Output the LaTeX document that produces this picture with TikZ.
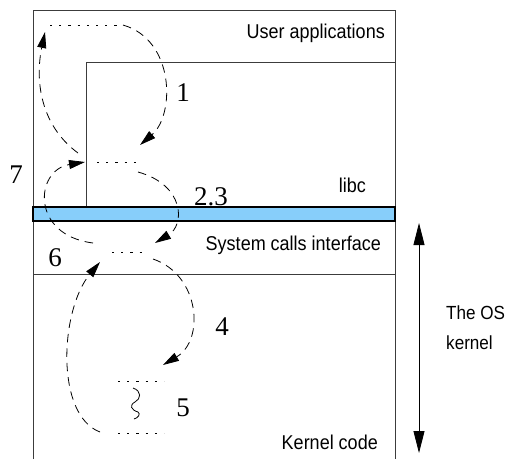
\documentclass[tikz,border=0pt]{standalone}
\usepackage{fontspec}
\setmainfont{Liberation Serif}
\newfontfamily\labfont[FakeStretch=0.9]{Liberation Sans}
\usetikzlibrary{arrows.meta}
\definecolor{barblue}{RGB}{135,206,250}
\definecolor{frame}{RGB}{60,60,60}
\begin{document}
\begin{tikzpicture}[x=1pt,y=-1pt,
  frameline/.style={draw=frame,line width=0.9pt},
  layer/.style={font=\labfont\fontsize{20}{22}\selectfont,inner sep=0pt},
  sidelabel/.style={font=\labfont\fontsize{19}{21}\selectfont,inner sep=0pt},
  stepnum/.style={font=\fontsize{27}{30}\selectfont,inner sep=0pt},
  placeholder/.style={draw,line width=0.8pt,dash pattern=on 2.2pt off 7pt},
  flow/.style={draw,line width=0.8pt,dash pattern=on 8.5pt off 6pt,
    -{Triangle[length=16pt,width=9pt]}},
  span/.style={draw,line width=0.8pt,
    {Triangle[length=22pt,width=11pt]}-{Triangle[length=22pt,width=11pt]}}]
\useasboundingbox (0,0) rectangle (511,459);

% layered boxes
\draw[frameline] (33,459) -- (33,10) -- (395,10) -- (395,459);
\draw[frameline] (86,207) -- (86,62) -- (395,62);
\draw[frameline] (33,274) -- (395,274);
\draw[fill=barblue,line width=1.6pt] (33,207) rectangle (395,221);

% layer labels
\node[layer,anchor=east] (user) at (385,33) {User applications};
\node[layer,anchor=east] (libc) at (366,185) {libc};
\node[layer,anchor=east] (sci)  at (381,245) {System calls interface};
\node[layer,anchor=east] (kcode) at (378,442) {Kernel code};

% kernel span
\coordinate (spanT) at (419,223);
\coordinate (spanB) at (419,453);
\draw[span] (spanT) -- (spanB);
\node[sidelabel,anchor=west] (os)  at (446,313) {The OS};
\node[sidelabel,anchor=west] (ker) at (446,343) {kernel};

% places where control currently is
\coordinate (appL) at (50,25);   \coordinate (appR) at (117,25);
\coordinate (libL) at (97,162);  \coordinate (libR) at (140,162);
\coordinate (sysL) at (112,252); \coordinate (sysR) at (145,252);
\coordinate (kTL) at (118,381);  \coordinate (kTR) at (164,381);
\coordinate (kBL) at (118,433);  \coordinate (kBR) at (164,433);
\draw[placeholder] (appL) -- (appR);
\draw[placeholder] (libL) -- (libR);
\draw[placeholder] (sysL) -- (sysR);
\draw[placeholder] (kTL) -- (kTR);
\draw[placeholder] (kBL) -- (kBR);

% kernel work in progress
\draw[line width=0.8pt] (133,388) .. controls (142,391) and (141,399) .. (135,402)
  .. controls (129,405) and (131,410) .. (138,412)
  .. controls (141,414) and (138,418) .. (134,419);

% ends of the control-flow arrows
\coordinate (f1s) at (123,25);  \coordinate (f1e) at (140,145);
\coordinate (f2s) at (138,172); \coordinate (f2e) at (155,243);
\coordinate (f4s) at (153,259); \coordinate (f4e) at (163,365);
\coordinate (f6s) at (100,432); \coordinate (f6e) at (100,262);
\coordinate (f7s) at (93,243);  \coordinate (f7e) at (85,162);
\coordinate (f8s) at (78,153);  \coordinate (f8e) at (45,32);

\draw[flow] (f1s) .. controls (175,40) and (175,115) .. (f1e);
\draw[flow] (f2s) .. controls (185,185) and (185,225) .. (f2e);
\draw[flow] (f4s) .. controls (200,275) and (205,340) .. (f4e);
\draw[flow] (f6s) .. controls (55,415) and (60,310) .. (f6e);
\draw[flow] (f7s) .. controls (30,235) and (35,170) .. (f7e);
\draw[flow] (f8s) .. controls (40,125) and (35,80) .. (f8e);

% step numbers
\node[stepnum] (n1) at (183,93) {1};
\node[stepnum] (n7) at (16,175) {7};
\node[stepnum] (n23) at (211,197) {2.3};
\node[stepnum] (n6) at (55,258) {6};
\node[stepnum] (n4) at (222,327) {4};
\node[stepnum] (n5) at (183,408) {5};
\end{tikzpicture}
\end{document}
